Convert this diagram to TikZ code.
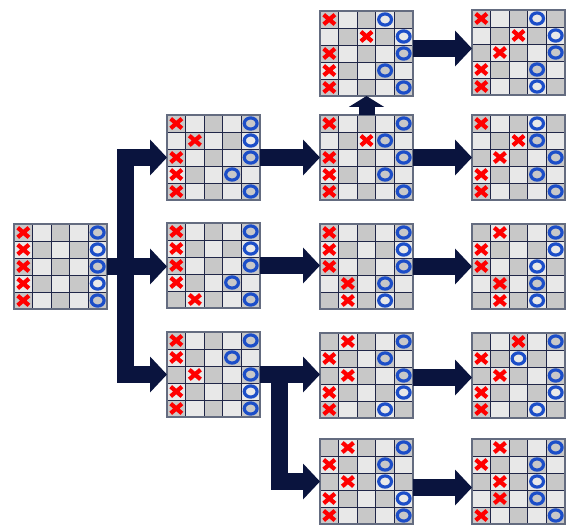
\documentclass[tikz,border=0pt]{standalone}
\usetikzlibrary{arrows.meta}

\definecolor{navy}{RGB}{10,20,62}
\definecolor{celllight}{RGB}{232,232,232}
\definecolor{cellgray}{RGB}{200,200,200}
\definecolor{gridc}{RGB}{32,38,72}
\definecolor{edgec}{RGB}{100,108,128}
\definecolor{xred}{RGB}{255,0,0}
\definecolor{oblue}{RGB}{28,78,200}

\tikzset{
  board/.style={minimum width=93pt, minimum height=85pt, inner sep=0pt, outer sep=0pt},
  gridline/.style={draw=gridc, line width=0.8pt},
  boardedge/.style={draw=edgec, line width=1.5pt},
  xmark/.style={draw=xred, line width=4.2pt},
  omark/.style={draw=oblue, line width=3.2pt},
  flow/.style={draw=navy, line width=17pt, line join=miter,
    -{Triangle[length=17pt,width=35pt]}},
  flowup/.style={draw=navy, line width=16pt,
    -{Triangle[length=11pt,width=35pt]}},
}

% \gameboard{name}{left}{top}{X column per row}{O column per row}
\newcommand\gameboard[5]{%
  \node[board] (#1) at ({#2+46.5},{#3+42.5}) {};
  \begin{scope}[shift={(#1.north west)}]
    \fill[celllight] (0,0) rectangle (93,85);
    \foreach \r in {1,...,5}{
      \foreach \c in {1,...,5}{
        \pgfmathtruncatemacro\cellpar{mod(\r+\c,2)}
        \ifnum\cellpar=0
          \fill[cellgray] ({(\c-1)*18.6},{(\r-1)*17}) rectangle ++(18.6,17);
        \fi
      }
    }
    \foreach \k in {1,...,4}{
      \draw[gridline] ({\k*18.6},0) -- ++(0,85);
      \draw[gridline] (0,{\k*17}) -- ++(93,0);
    }
    \draw[boardedge] (0,0) rectangle (93,85);
    \foreach \c [count=\r] in {#4}{
      \draw[xmark] ({(\c-0.5)*18.6-5.6},{(\r-0.5)*17-4.8}) -- ++(11.2,9.6)
                   ({(\c-0.5)*18.6-5.6},{(\r-0.5)*17+4.8}) -- ++(11.2,-9.6);
    }
    \foreach \c [count=\r] in {#5}{
      \draw[omark] ({(\c-0.5)*18.6},{(\r-0.5)*17}) ellipse [x radius=6.4pt, y radius=5.6pt];
    }
  \end{scope}
}

\begin{document}
\begin{tikzpicture}[x=1pt, y=-1pt]
  \fill[white] (0,0) rectangle (568,527);
  \useasboundingbox (0,0) rectangle (568,527);

  % starting position
  \gameboard{root}{14}{224}{1,1,1,1,1}{5,5,5,5,5}
  % first moves
  \gameboard{B1}{167}{115}{1,2,1,1,1}{5,5,5,4,5}
  \gameboard{B2}{167}{223}{1,1,1,1,2}{5,5,5,4,5}
  \gameboard{B3}{167}{332}{1,1,2,1,1}{5,4,5,5,5}
  % replies
  \gameboard{C0}{320}{11}{1,3,1,1,1}{4,5,5,4,5}
  \gameboard{C1}{320}{115}{1,3,1,1,1}{5,4,5,4,5}
  \gameboard{C2}{320}{224}{1,1,1,2,2}{5,5,5,4,4}
  \gameboard{C3}{320}{333}{2,1,2,1,1}{5,4,5,5,4}
  \gameboard{C4}{320}{439}{2,1,2,1,1}{5,4,4,5,5}
  % continuations
  \gameboard{D0}{472}{10}{1,3,2,1,1}{4,5,5,4,4}
  \gameboard{D1}{472}{115}{1,3,2,1,1}{4,4,5,4,5}
  \gameboard{D2}{472}{224}{2,1,1,2,2}{5,5,4,4,4}
  \gameboard{D3}{472}{333}{3,1,2,1,1}{5,3,5,5,4}
  \gameboard{D4}{472}{439}{2,1,2,2,1}{5,4,4,4,5}

  % branch points
  \coordinate (splitA) at (125.5,266);
  \coordinate (splitB) at (279,374);

  \draw[flow] (root.east) -- (root.east -| splitA) |- (B1.west);
  \draw[flow] (root.east) -- (root.east -| B2.west);
  \draw[flow] (root.east) -- (root.east -| splitA) |- (B3.west);

  \draw[flow] (B1.east) -- (C1.west);
  \draw[flow] (B2.east) -- (B2.east -| C2.west);
  \draw[flow] (B3.east) -- (B3.east -| C3.west);
  \draw[flow] (B3.east) -- (B3.east -| splitB) |- (C4.west);

  \draw[flowup] (C1.north) -- (C0.south);

  \draw[flow] ([yshift=5pt]C0.east) -- ([yshift=5pt]C0.east -| D0.west);
  \draw[flow] (C1.east) -- (D1.west);
  \draw[flow] (C2.east) -- (D2.west);
  \draw[flow] ([yshift=-2pt]C3.east) -- ([yshift=-2pt]C3.east -| D3.west);
  \draw[flow] ([yshift=-6pt]C4.east) -- ([yshift=-6pt]C4.east -| D4.west);
\end{tikzpicture}
\end{document}
